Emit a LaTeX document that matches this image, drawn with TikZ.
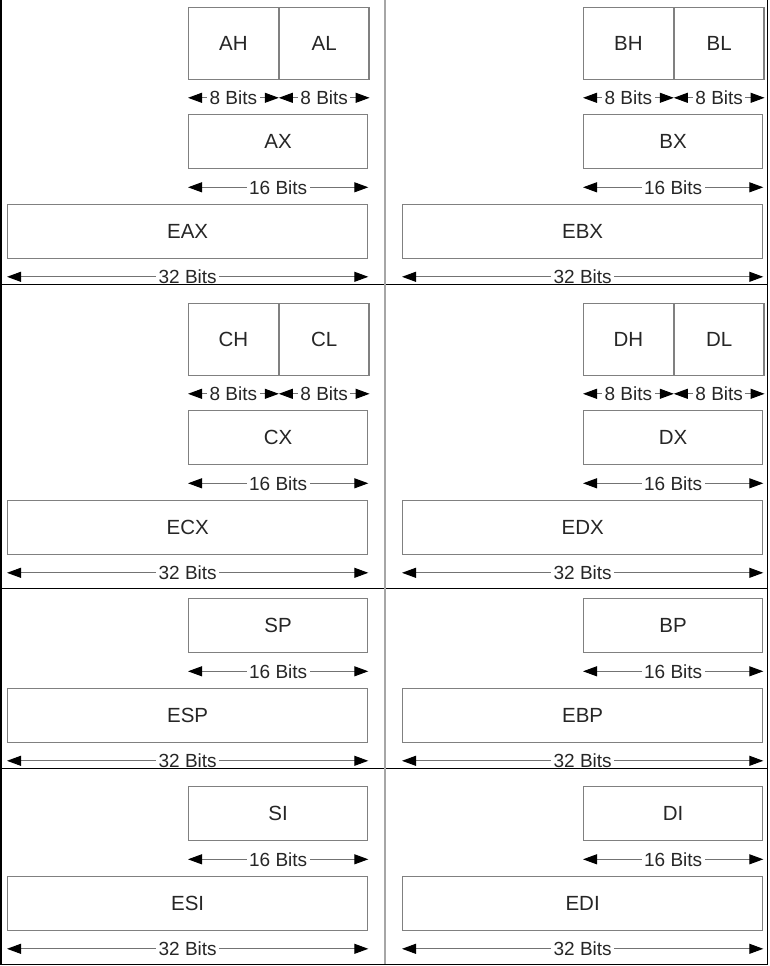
\documentclass[tikz,border=0pt]{standalone}
\usepackage{fontspec}
\setmainfont{Liberation Sans}
\usetikzlibrary{arrows.meta,positioning}
\tikzset{
  reg/.style={
      rectangle,
      inner sep=0pt,
      line width=1.3pt,
      draw=black!50,
      text=black!85,
      font=\fontsize{20.5}{23}\selectfont
  },
  half/.style={reg, minimum width=89.5pt, minimum height=72pt},
  word/.style={reg, minimum width=179pt, minimum height=54pt},
  dword/.style={reg, minimum width=360pt, minimum height=54pt},
  bits/.style={
      {Triangle[length=14pt,width=10pt,color=black]}-{Triangle[length=14pt,width=10pt,color=black]},
      line width=1pt,
      draw=black!55
  },
  bitlabel/.style={
      fill=white,
      inner sep=2.5pt,
      text=black!85,
      font=\fontsize{19}{21}\selectfont
  }
}

\begin{document}
\begin{tikzpicture}[x=1pt,y=-1pt]
    \useasboundingbox (0,0) rectangle (769,966);
    \foreach \dx/\dy/\hreg/\lreg/\xreg/\ereg in {0/0/AH/AL/AX/EAX, 395/0/BH/BL/BX/EBX,
                                                 0/296/CH/CL/CX/ECX, 395/296/DH/DL/DX/EDX}
    {
      \begin{scope}[shift={(\dx,\dy)}]
        \node[half, anchor=north west] (\hreg) at (188,7) {\hreg};
        \node[half, anchor=north west] (\lreg) at (\hreg.north east) {\lreg};
        \node[word, anchor=north west] (\xreg) at (188,114) {\xreg};
        \node[dword, anchor=north west] (\ereg) at (7,204) {\ereg};
        \draw[bits] ([yshift=-17.5pt]\hreg.south west) -- node[bitlabel] {8 Bits} ([yshift=-17.5pt]\hreg.south east);
        \draw[bits] ([yshift=-17.5pt]\lreg.south west) -- node[bitlabel] {8 Bits} ([yshift=-17.5pt]\lreg.south east);
        \draw[bits] ([yshift=-18pt]\xreg.south west) -- node[bitlabel] {16 Bits} ([yshift=-18pt]\xreg.south east);
        \draw[bits] ([yshift=-17.5pt]\ereg.south west) -- node[bitlabel] {32 Bits} ([yshift=-17.5pt]\ereg.south east);
      \end{scope}
    }
    \foreach \dx/\dy/\xreg/\ereg in {0/484/SP/ESP, 395/484/BP/EBP, 0/672/SI/ESI, 395/672/DI/EDI}
    {
      \begin{scope}[shift={(\dx,\dy)}]
        \node[word, anchor=north west] (\xreg) at (188,114) {\xreg};
        \node[dword, anchor=north west] (\ereg) at (7,204) {\ereg};
        \draw[bits] ([yshift=-18pt]\xreg.south west) -- node[bitlabel] {16 Bits} ([yshift=-18pt]\xreg.south east);
        \draw[bits] ([yshift=-17.5pt]\ereg.south west) -- node[bitlabel] {32 Bits} ([yshift=-17.5pt]\ereg.south east);
      \end{scope}
    }
    \draw[line width=1pt] (0,284) -- (767,284) (0,588) -- (767,588) (0,768) -- (767,768);
    \draw[line width=2pt, black!35] (384.5,0) -- (384.5,964);
    \draw[line width=1.5pt] (0.75,0) -- (0.75,964.5) -- (767.5,964.5) -- (767.5,0);
\end{tikzpicture}
\end{document}
